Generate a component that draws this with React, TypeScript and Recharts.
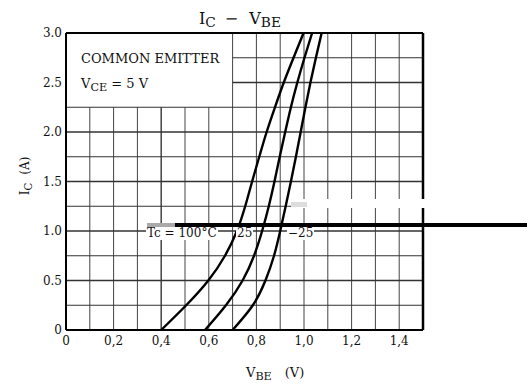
import { LineChart, Line, XAxis, YAxis, ReferenceLine } from 'recharts';

// collector current steps (A), shared by the three curves
const icSteps = [0, 0.25, 0.5, 0.75, 1.0, 1.25, 1.5, 1.75, 2.0, 2.25, 2.5, 2.75, 3.0];

// base-emitter voltage (V) read at each current step
const vbeTc100 = [0.40, 0.505, 0.598, 0.668, 0.718, 0.753, 0.782, 0.812, 0.843, 0.878, 0.915, 0.956, 0.998];
const vbeTc25 = [0.584, 0.672, 0.742, 0.79, 0.824, 0.852, 0.876, 0.898, 0.921, 0.945, 0.972, 1.002, 1.034];
const vbeTcMinus25 = [0.70, 0.785, 0.838, 0.874, 0.90, 0.923, 0.945, 0.966, 0.986, 1.006, 1.027, 1.05, 1.074];

const xTicks = [0, 0.2, 0.4, 0.6, 0.8, 1.0, 1.2, 1.4];
const xTickLabels = ['0', '0,2', '0,4', '0,6', '0,8', '1,0', '1,2', '1,4'];
const yTicks = [0, 0.5, 1.0, 1.5, 2.0, 2.5, 3.0];
const yTickLabels = ['0', '0.5', '1.0', '1.5', '2.0', '2.5', '3.0'];

const gridX = [0.1, 0.2, 0.3, 0.4, 0.5, 0.6, 0.7, 0.8, 0.9, 1.0, 1.1, 1.2, 1.3, 1.4];
const gridY = [0.25, 0.5, 0.75, 1.0, 1.25, 1.5, 1.75, 2.0, 2.25, 2.5, 2.75];

// the "COMMON EMITTER" box hides the grid in the top-left corner
const boxRight = 0.7;
const boxBottom = 2.25;
const xMax = 1.5;
const yMax = 3;

const toPoints = (vbe: number[]) => vbe.map((v, i) => ({ vbe: v, ic: icSteps[i] }));

const font = 'DejaVu Serif';
const sub = { fontSize: '0.86em', position: 'relative' as const, top: 3 };

export default function App() {
  const curves = [toPoints(vbeTc100), toPoints(vbeTc25), toPoints(vbeTcMinus25)];

  return (
    <div style={{ position: 'absolute', left: 0, top: 0, width: 527, height: 385, background: '#fff', fontFamily: font, color: '#111' }}>
      <LineChart width={527} height={385} margin={{ top: 33, right: 104, left: 26, bottom: 25 }}>
        <XAxis
          dataKey="vbe"
          type="number"
          domain={[0, xMax]}
          ticks={xTicks}
          tickFormatter={(v: number) => xTickLabels[xTicks.indexOf(v)] ?? ''}
          tickLine={false}
          tickSize={2}
          tickMargin={4}
          height={30}
          axisLine={{ stroke: '#000', strokeWidth: 2 }}
          tick={{ fontFamily: font, fontSize: 12, fill: '#111' }}
        />
        <YAxis
          dataKey="ic"
          type="number"
          domain={[0, yMax]}
          ticks={yTicks}
          tickFormatter={(v: number) => yTickLabels[yTicks.indexOf(v)] ?? ''}
          tickLine={false}
          tickSize={2}
          tickMargin={2}
          width={40}
          axisLine={{ stroke: '#000', strokeWidth: 2 }}
          tick={{ fontFamily: font, fontSize: 12, fill: '#111' }}
        />
        {gridX.map((x) => (
          <ReferenceLine
            key={'gx' + x}
            segment={[{ x, y: 0 }, { x, y: x < boxRight - 1e-9 ? boxBottom : yMax }]}
            stroke="#444"
            strokeWidth={x === 0.4 ? 1.5 : 1}
          />
        ))}
        {gridY.map((y) => (
          <ReferenceLine
            key={'gy' + y}
            segment={[{ x: y > boxBottom + 1e-9 ? boxRight : 0, y }, { x: xMax, y }]}
            stroke="#333"
            strokeWidth={y % 0.5 === 0 ? 1.6 : 1}
          />
        ))}
        <ReferenceLine x={xMax} stroke="#000" strokeWidth={2.5} />
        <ReferenceLine y={yMax} stroke="#000" strokeWidth={2} />
        {curves.map((pts, i) => (
          <Line
            key={i}
            data={pts}
            dataKey="ic"
            type="natural"
            stroke="#000"
            strokeWidth={2.4}
            dot={false}
            isAnimationActive={false}
          />
        ))}
      </LineChart>

      {/* title */}
      <div style={{ position: 'absolute', left: 199, top: 11, fontSize: 16, lineHeight: '16px', whiteSpace: 'nowrap' }}>
        I<span style={sub}>C</span>
        <span style={{ marginLeft: 9 }}>−</span>
        <span style={{ marginLeft: 11 }}>V</span><span style={sub}>BE</span>
      </div>

      {/* box text */}
      <div style={{ position: 'absolute', left: 81, top: 51.5, fontSize: 13, lineHeight: '13px', whiteSpace: 'nowrap' }}>
        COMMON EMITTER
      </div>
      <div style={{ position: 'absolute', left: 81, top: 76.5, fontSize: 13, lineHeight: '13px', whiteSpace: 'nowrap' }}>
        V<span style={sub}>CE</span> = 5 V
      </div>

      {/* axis titles */}
      <div style={{ position: 'absolute', left: 25, top: 176, fontSize: 12, lineHeight: '12px', whiteSpace: 'nowrap', transform: 'translate(-50%, -50%) rotate(-90deg)' }}>
        I<span style={sub}>C</span>
        <span style={{ marginLeft: 8 }}>(A)</span>
      </div>
      <div style={{ position: 'absolute', left: 246, top: 365.5, fontSize: 13, lineHeight: '13px', whiteSpace: 'nowrap' }}>
        V<span style={sub}>BE</span>
        <span style={{ marginLeft: 13 }}>(V)</span>
      </div>

      {/* temperature labels */}
      <div style={{ position: 'absolute', left: 146, top: 226, fontSize: 12, lineHeight: '14px', background: '#fff', padding: '0 1px', whiteSpace: 'nowrap' }}>
        Tc = 100°C
      </div>
      <div style={{ position: 'absolute', left: 236, top: 226, fontSize: 12, lineHeight: '14px', background: '#fff', padding: '0 1px' }}>
        25
      </div>
      <div style={{ position: 'absolute', left: 287, top: 226, fontSize: 12, lineHeight: '14px', background: '#fff', padding: '0 1px' }}>
        −25
      </div>

      {/* scan artefacts */}
      <div style={{ position: 'absolute', left: 147, top: 223, width: 28, height: 4, background: '#aaa' }} />
      <div style={{ position: 'absolute', left: 175, top: 223, width: 352, height: 4, background: '#000' }} />
      <div style={{ position: 'absolute', left: 291, top: 199, width: 134, height: 9, background: '#fff' }} />
      <div style={{ position: 'absolute', left: 291, top: 202, width: 16, height: 5, background: '#ddd' }} />
    </div>
  );
}
